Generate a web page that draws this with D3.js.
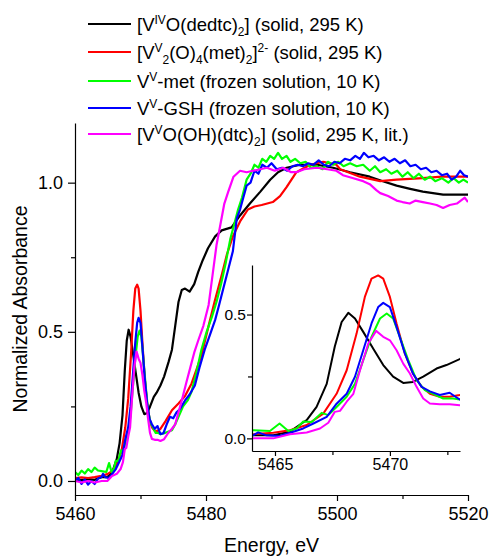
<!DOCTYPE html>
<html>
<head>
<meta charset="utf-8">
<script src="https://cdn.jsdelivr.net/npm/d3@7"></script>
<style>
  body { margin: 0; background: #fff; }
  text { font-family: "Liberation Sans", Arial, sans-serif; fill: #000; }
</style>
</head>
<body>
<div id="chart"></div>
<script>
"use strict";

// Spectra as [energy (eV), normalized absorbance]
var blackData = [[5460,0.005],[5461,0.003],[5462,0.006],[5463,0.004],[5464.06,0.013],[5464.93,0.013],[5465.65,0.027],
  [5466.38,0.074],[5466.81,0.127],[5467.25,0.22],[5467.6,0.37],[5467.9,0.47],[5468.19,0.507],[5468.48,0.484],
  [5468.84,0.43],[5469.27,0.363],[5469.71,0.296],[5470.14,0.249],[5470.58,0.224],[5471.0,0.228],[5471.45,0.249],
  [5472.03,0.282],[5472.46,0.296],[5473.04,0.32],[5473.6,0.35],[5474.3,0.40],[5474.8,0.44],[5475.3,0.52],
  [5475.8,0.60],[5476.3,0.64],[5476.8,0.645],[5477.5,0.635],[5478.2,0.66],[5478.8,0.70],[5479.5,0.74],
  [5480.3,0.78],[5481.4,0.82],[5482.4,0.84],[5483.9,0.85],[5485.2,0.89],[5486.7,0.93],[5488.3,0.97],
  [5489.8,1.01],[5491,1.035],[5492.3,1.05],[5494.4,1.06],[5497,1.06],[5499.4,1.05],[5502,1.035],[5505,1.02],
  [5507,1.005],[5509.1,0.99],[5511,0.98],[5513.1,0.97],[5516.2,0.96],[5518,0.96],[5520,0.96]];

var redData = [[5460,0.01],[5461,0.012],[5462,0.01],[5463,0.013],[5464.06,0.017],[5464.93,0.023],[5465.65,0.033],
  [5466.38,0.054],[5467.1,0.10],[5467.68,0.18],[5468.12,0.275],[5468.55,0.423],[5468.91,0.571],[5469.2,0.645],
  [5469.49,0.658],[5469.71,0.645],[5470.0,0.571],[5470.29,0.464],[5470.65,0.343],[5471.0,0.262],[5471.38,0.208],
  [5471.74,0.18],[5472.17,0.168],[5472.6,0.168],[5473.04,0.175],[5473.8,0.20],[5474.8,0.237],[5475.8,0.26],
  [5476.8,0.285],[5477.8,0.327],[5479.3,0.42],[5480.4,0.52],[5481.3,0.60],[5482.4,0.69],[5483.2,0.76],
  [5484.1,0.82],[5485.2,0.87],[5486.4,0.91],[5487.4,0.92],[5488.5,0.925],[5490.2,0.935],[5491.3,0.955],
  [5492.3,0.985],[5493.8,1.035],[5495.9,1.06],[5497.9,1.07],[5499.9,1.06],[5500.5,1.045],[5503.5,1.02],
  [5506.6,1.005],[5509.1,1.01],[5513.1,1.015],[5516,1.02],[5520,1.02]];

var greenData = [[5460,0.03],[5460.5,0.02],[5461,0.035],[5461.5,0.025],[5462,0.04],[5462.5,0.03],[5463,0.045],
  [5463.5,0.035],[5464.06,0.033],[5464.78,0.03],[5465.2,0.06],[5465.58,0.03],[5465.94,0.04],[5466.23,0.068],
  [5466.6,0.066],[5467.03,0.103],[5467.32,0.094],[5467.68,0.127],[5468.12,0.168],[5468.48,0.22],[5468.84,0.316],
  [5469.2,0.41],[5469.57,0.484],[5469.86,0.504],[5470.14,0.484],[5470.43,0.41],[5470.8,0.316],[5471.16,0.235],
  [5471.52,0.195],[5471.88,0.18],[5472.32,0.161],[5472.75,0.161],[5473.04,0.157],[5473.6,0.16],[5474.2,0.165],
  [5474.8,0.17],[5475.3,0.19],[5475.8,0.215],[5476.5,0.25],[5477.2,0.27],[5477.8,0.30],[5478.5,0.36],
  [5479.3,0.44],[5480.1,0.50],[5480.9,0.55],[5481.6,0.60],[5482.3,0.66],[5483.0,0.73],[5483.7,0.81],
  [5484.3,0.86],[5484.9,0.91],[5485.5,0.95],[5486.2,1.01],[5486.8,1.03],[5487.4,1.06],[5488.0,1.05],
  [5488.6,1.08],[5489.2,1.07],[5489.8,1.09],[5490.4,1.08],[5491.0,1.10],[5491.6,1.08],[5492.3,1.09],
  [5492.9,1.07],[5493.6,1.08],[5494.4,1.065],[5495.2,1.07],[5496,1.05],[5496.9,1.055],[5497.8,1.045],
  [5498.6,1.07],[5499.4,1.06],[5500.2,1.07],[5501,1.055],[5502,1.065],[5503,1.055],[5504,1.06],[5505,1.04],
  [5505.8,1.055],[5506.6,1.035],[5507.5,1.045],[5508.3,1.03],[5509.2,1.04],[5510,1.02],[5510.8,1.035],
  [5511.7,1.015],[5512.5,1.03],[5513.4,1.01],[5514.2,1.02],[5515,1.005],[5516,1.015],[5517,1.0],
  [5517.8,1.015],[5518.6,1.0],[5519.3,1.01],[5520,1.0]];

var blueData = [[5460,0.0],[5460.5,0.01],[5461,-0.01],[5461.5,0.005],[5462,-0.012],[5462.5,0.0],[5463,-0.01],
  [5463.5,0.008],[5464.06,0.013],[5464.27,0.024],[5464.6,0.013],[5465.2,0.01],[5465.8,0.027],[5466.23,0.04],
  [5466.67,0.06],[5467.25,0.087],[5467.68,0.14],[5468.12,0.18],[5468.48,0.249],[5468.84,0.356],[5469.2,0.464],
  [5469.49,0.53],[5469.71,0.547],[5470.0,0.53],[5470.29,0.45],[5470.65,0.343],[5471.0,0.262],[5471.38,0.208],
  [5471.74,0.19],[5472.17,0.175],[5472.6,0.184],[5472.82,0.17],[5473.04,0.157],[5473.5,0.16],[5474.0,0.19],
  [5474.5,0.215],[5475.0,0.21],[5475.5,0.23],[5476.0,0.24],[5476.8,0.27],[5477.5,0.29],[5478.3,0.32],
  [5479.0,0.38],[5479.8,0.44],[5480.6,0.49],[5481.4,0.54],[5482.0,0.59],[5482.7,0.65],[5483.4,0.71],
  [5484.1,0.77],[5484.7,0.88],[5485.2,0.91],[5485.7,0.95],[5486.2,0.99],[5486.8,1.0],[5487.4,1.04],
  [5488,1.03],[5488.6,1.06],[5489.3,1.05],[5490,1.065],[5490.8,1.045],[5491.6,1.05],[5492.4,1.04],
  [5493.2,1.055],[5494.0,1.06],[5494.8,1.055],[5495.6,1.065],[5496.4,1.06],[5497.2,1.075],[5498,1.06],
  [5498.8,1.055],[5499.6,1.07],[5500.4,1.065],[5501.2,1.08],[5502,1.075],[5502.8,1.09],[5503.5,1.08],
  [5504.1,1.10],[5504.8,1.085],[5505.6,1.09],[5506.4,1.075],[5507.2,1.085],[5508,1.07],[5508.8,1.08],
  [5509.6,1.065],[5510.4,1.075],[5511.2,1.055],[5512,1.06],[5512.8,1.045],[5513.6,1.05],[5514.4,1.035],
  [5515.2,1.04],[5516,1.025],[5516.8,1.03],[5517.5,1.01],[5518.2,1.02],[5518.8,1.04],[5519.4,1.025],[5520,1.02]];

var magentaData = [[5460,0.0],[5461,-0.005],[5462,0.0],[5463,-0.005],[5464.06,0.0],[5464.93,0.0],[5465.65,0.017],
  [5466.38,0.024],[5466.96,0.04],[5467.32,0.063],[5467.6,0.107],[5467.83,0.111],[5468.12,0.148],[5468.41,0.18],
  [5468.7,0.275],[5469.06,0.383],[5469.4,0.434],[5469.71,0.41],[5470.0,0.396],[5470.29,0.356],[5470.58,0.302],
  [5470.87,0.262],[5471.16,0.208],[5471.45,0.161],[5471.74,0.141],[5472.17,0.138],[5472.6,0.138],[5473.04,0.134],
  [5473.6,0.14],[5474.2,0.16],[5474.8,0.175],[5475.3,0.19],[5475.8,0.23],[5476.3,0.27],[5477.0,0.33],
  [5477.6,0.38],[5478.2,0.43],[5478.8,0.47],[5479.6,0.52],[5480.4,0.59],[5481.0,0.69],[5481.6,0.79],
  [5482.2,0.86],[5482.8,0.93],[5483.4,0.97],[5484.2,1.02],[5485.2,1.04],[5486.2,1.035],[5487.2,1.04],
  [5488.3,1.045],[5489.3,1.05],[5490.5,1.04],[5491.8,1.05],[5493,1.035],[5493.8,1.035],[5495,1.045],
  [5496.9,1.05],[5498.5,1.045],[5499.9,1.04],[5500.9,1.025],[5502.5,1.015],[5504,1.005],[5505,0.995],
  [5506,0.975],[5506.6,0.965],[5507.8,0.955],[5509.1,0.94],[5510,0.935],[5511.1,0.93],[5512,0.94],
  [5513.1,0.935],[5514.2,0.93],[5515.2,0.925],[5516.2,0.915],[5517.2,0.925],[5518.3,0.93],[5519.5,0.95],[5520,0.935]];

// Legend texts: [text, "n" | "sup" | "sub"]
var legendLabels = [
  [["[V","n"],["IV","sup"],["O(dedtc)","n"],["2","sub"],["] (solid, 295 K)","n"]],
  [["[V","n"],["V","sup"],["2","sub"],["(O)","n"],["4","sub"],["(met)","n"],["2","sub"],["]","n"],["2-","sup"],[" (solid, 295 K)","n"]],
  [["V","n"],["V","sup"],["-met (frozen solution, 10 K)","n"]],
  [["V","n"],["V","sup"],["-GSH (frozen solution, 10 K)","n"]],
  [["[V","n"],["V","sup"],["O(OH)(dtc)","n"],["2","sub"],["] (solid, 295 K, lit.)","n"]]
];
var seriesColors = ["#000000", "#ff0000", "#00ff00", "#0000ff", "#ff00ff"];

// Ticks
var mainXTicks = [5460, 5480, 5500, 5520], mainXMinor = [5470, 5490, 5510];
var mainYTicks = [0, 0.5, 1.0], mainYMinor = [0.25, 0.75];
var insetXTicks = [5465, 5470], insetXMinor = [5467.5, 5472.5];
var insetYTicks = [0, 0.5], insetYMinor = [0.25];

var series = [blackData, redData, greenData, blueData, magentaData].map(function (d, i) {
  return { data: d, color: seriesColors[i], label: legendLabels[i] };
});

var svg = d3.select("#chart").append("svg")
  .attr("width", 489).attr("height", 556);

// Main plot
var x = d3.scaleLinear().domain([5460, 5520]).range([75, 468]);
var y = d3.scaleLinear().domain([-0.047, 1.2]).range([495, 123]);

svg.append("clipPath").attr("id", "mainClip")
  .append("rect").attr("x", 75).attr("y", 123).attr("width", 393).attr("height", 372);

var line = d3.line()
  .x(function (d) { return x(d[0]); })
  .y(function (d) { return y(d[1]); });

svg.append("g").attr("clip-path", "url(#mainClip)")
  .selectAll("path").data(series).enter().append("path")
  .attr("d", function (d) { return line(d.data); })
  .attr("fill", "none")
  .attr("stroke", function (d) { return d.color; })
  .attr("stroke-width", 2.2)
  .attr("stroke-linejoin", "round");

function styleAxis(g, size) {
  g.selectAll("path.domain").attr("stroke", "#000").attr("stroke-width", 1.2);
  g.selectAll(".tick line").attr("stroke", "#000").attr("stroke-width", 1.2);
  g.selectAll(".tick text").attr("font-size", size).attr("font-family", "'Liberation Sans', Arial, sans-serif");
}

var xAxis = svg.append("g").attr("transform", "translate(0,495)")
  .call(d3.axisBottom(x).tickValues(mainXTicks).tickFormat(d3.format("d"))
    .tickSize(6).tickSizeOuter(0).tickPadding(6));
styleAxis(xAxis, 18);
var xMinor = svg.append("g").attr("transform", "translate(0,495)")
  .call(d3.axisBottom(x).tickValues(mainXMinor).tickFormat("").tickSize(4).tickSizeOuter(0));
xMinor.select(".domain").remove();
styleAxis(xMinor, 18);

var yAxis = svg.append("g").attr("transform", "translate(75,0)")
  .call(d3.axisLeft(y).tickValues(mainYTicks).tickFormat(d3.format(".1f"))
    .tickSize(7).tickSizeOuter(0).tickPadding(5));
styleAxis(yAxis, 18);
var yMinor = svg.append("g").attr("transform", "translate(75,0)")
  .call(d3.axisLeft(y).tickValues(mainYMinor).tickFormat("").tickSize(4).tickSizeOuter(0));
yMinor.select(".domain").remove();
styleAxis(yMinor, 18);

// Axis titles
svg.append("text").attr("x", 271.5).attr("y", 552)
  .attr("text-anchor", "middle").attr("font-size", 19.5).text("Energy, eV");
svg.append("text").attr("transform", "translate(26.5,309) rotate(-90)")
  .attr("text-anchor", "middle").attr("font-size", 19.5).text("Normalized Absorbance");

// Inset
var ix = d3.scaleLinear().domain([5464, 5473.05]).range([252, 460]);
var iy = d3.scaleLinear().domain([-0.051, 0.70]).range([451, 265]);

svg.append("clipPath").attr("id", "insetClip")
  .append("rect").attr("x", 252).attr("y", 265).attr("width", 208).attr("height", 186);

var iline = d3.line()
  .x(function (d) { return ix(d[0]); })
  .y(function (d) { return iy(d[1]); });

svg.append("g").attr("clip-path", "url(#insetClip)")
  .selectAll("path").data(series).enter().append("path")
  .attr("d", function (d) {
    return iline(d.data.filter(function (p) { return p[0] >= 5463 && p[0] <= 5474; }));
  })
  .attr("fill", "none")
  .attr("stroke", function (d) { return d.color; })
  .attr("stroke-width", 2)
  .attr("stroke-linejoin", "round");

var ixAxis = svg.append("g").attr("transform", "translate(0,451)")
  .call(d3.axisBottom(ix).tickValues(insetXTicks).tickFormat(d3.format("d"))
    .tickSize(5).tickSizeOuter(0).tickPadding(3));
styleAxis(ixAxis, 16);
var ixMinor = svg.append("g").attr("transform", "translate(0,451)")
  .call(d3.axisBottom(ix).tickValues(insetXMinor).tickFormat("").tickSize(4).tickSizeOuter(0));
ixMinor.select(".domain").remove();
styleAxis(ixMinor, 16);

var iyAxis = svg.append("g").attr("transform", "translate(252,0)")
  .call(d3.axisLeft(iy).tickValues(insetYTicks).tickFormat(d3.format(".1f"))
    .tickSize(5).tickSizeOuter(0).tickPadding(1));
styleAxis(iyAxis, 15.5);
var iyMinor = svg.append("g").attr("transform", "translate(252,0)")
  .call(d3.axisLeft(iy).tickValues(insetYMinor).tickFormat("").tickSize(4).tickSizeOuter(0));
iyMinor.select(".domain").remove();
styleAxis(iyMinor, 15.5);

// Legend
var legendRows = [24, 52, 81, 108, 134];
var legend = svg.append("g").selectAll("g").data(series).enter().append("g")
  .attr("transform", function (d, i) { return "translate(0," + legendRows[i] + ")"; });
legend.append("line")
  .attr("x1", 88).attr("x2", 131).attr("y1", 0).attr("y2", 0)
  .attr("stroke", function (d) { return d.color; }).attr("stroke-width", 2);
legend.append("text")
  .attr("x", 137).attr("y", 6.5).attr("font-size", 18.5)
  .each(function (d) {
    var t = d3.select(this), shift = 0;
    d.label.forEach(function (part) {
      var target = part[1] === "sup" ? -7 : (part[1] === "sub" ? 5 : 0);
      t.append("tspan")
        .attr("dy", target - shift)
        .attr("font-size", part[1] === "n" ? 18.5 : 12)
        .text(part[0]);
      shift = target;
    });
  });
</script>
</body>
</html>
